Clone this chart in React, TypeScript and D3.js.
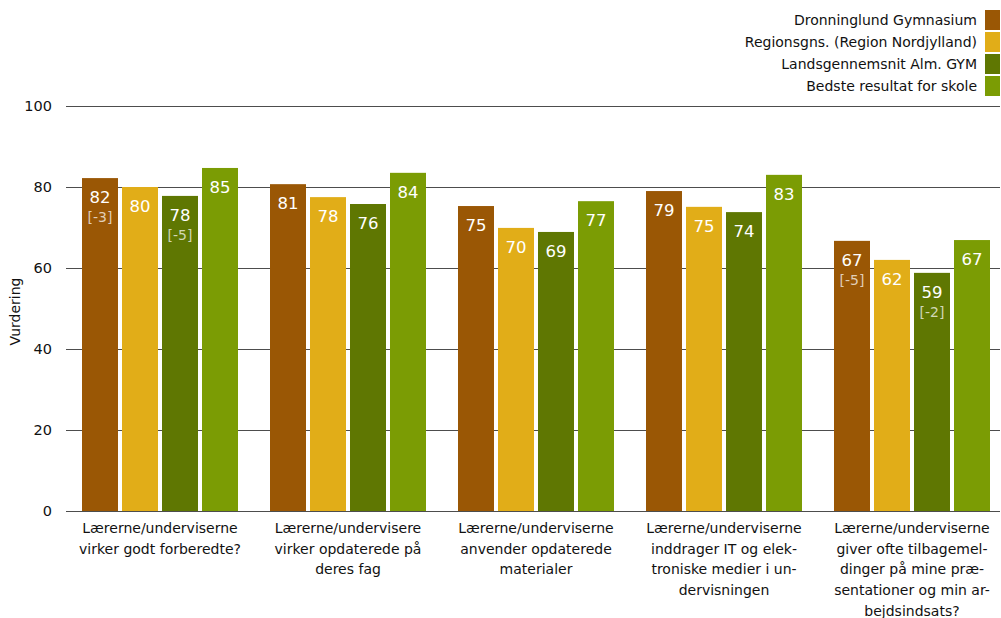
import React from "react";
import * as d3 from "d3";

const categories: string[][] = [
  ["Lærerne/underviserne", "virker godt forberedte?"],
  ["Lærerne/undervisere", "virker opdaterede på", "deres fag"],
  ["Lærerne/underviserne", "anvender opdaterede", "materialer"],
  ["Lærerne/underviserne", "inddrager IT og elek-", "troniske medier i un-", "dervisningen"],
  ["Lærerne/underviserne", "giver ofte tilbagemel-", "dinger på mine præ-", "sentationer og min ar-", "bejdsindsats?"],
];

const seriesNames = [
  "Dronninglund Gymnasium",
  "Regionsgns. (Region Nordjylland)",
  "Landsgennemsnit Alm. GYM",
  "Bedste resultat for skole",
];
const seriesColors = ["#9A5705", "#E1AD18", "#5F7702", "#7B9C04"];

const dronninglund = [82.2, 80.7, 75.3, 79.0, 66.7];
const region = [80.0, 77.5, 69.9, 75.1, 62.0];
const lands = [77.8, 75.8, 68.9, 73.8, 58.8];
const bedste = [84.7, 83.5, 76.5, 83.0, 66.9];

const dronninglundLabels = ["82", "81", "75", "79", "67"];
const regionLabels = ["80", "78", "70", "75", "62"];
const landsLabels = ["78", "76", "69", "74", "59"];
const bedsteLabels = ["85", "84", "77", "83", "67"];

const dronninglundDiff = ["[-3]", "", "", "", "[-5]"];
const landsDiff = ["[-5]", "", "", "", "[-2]"];
const noDiff = ["", "", "", "", ""];

const yTicks = [0, 20, 40, 60, 80, 100];

const FONT = "DejaVu Sans, Verdana, sans-serif";

export default function App() {
  const W = 1001;
  const H = 618;
  const values = [dronninglund, region, lands, bedste];
  const labels = [dronninglundLabels, regionLabels, landsLabels, bedsteLabels];
  const diffs = [dronninglundDiff, noDiff, landsDiff, noDiff];

  const y = d3.scaleLinear().domain([0, 100]).range([511, 106]);
  const x0 = d3
    .scaleBand<number>()
    .domain(d3.range(categories.length))
    .range([66, 1006])
    .paddingInner(0)
    .paddingOuter(0);
  const x1 = d3
    .scaleBand<number>()
    .domain(d3.range(4))
    .range([16, x0.bandwidth() - 16])
    .paddingInner(0.1)
    .paddingOuter(0);

  return (
    <svg width={W} height={H} style={{ position: "absolute", left: 0, top: 0, fontFamily: FONT }}>
      <rect x={0} y={0} width={W} height={H} fill="#fff" />
      {yTicks.map((t) => (
        <g key={t}>
          <line x1={66} x2={1000} y1={y(t) + 0.5} y2={y(t) + 0.5} stroke="#4d4d4d" strokeWidth={1} />
          <text x={52} y={y(t)} dy="0.35em" textAnchor="end" fontSize={14.5} fill="#111">
            {t}
          </text>
        </g>
      ))}
      <text
        transform={`translate(20,${(y(0) + y(100)) / 2 + 3}) rotate(-90)`}
        textAnchor="middle"
        fontSize={14}
        fill="#111"
      >
        Vurdering
      </text>
      {categories.map((cat, ci) => (
        <g key={ci} transform={`translate(${x0(ci)},0)`}>
          {values.map((vals, si) => {
            const bx = x1(si)!;
            const bw = x1.bandwidth();
            const top = y(vals[ci]);
            return (
              <g key={si}>
                <rect x={bx} y={top} width={bw} height={y(0) - top} fill={seriesColors[si]} />
                <text
                  x={bx + bw / 2}
                  y={top + 25}
                  textAnchor="middle"
                  fontSize={16.5}
                  fill="#fff"
                >
                  {labels[si][ci]}
                </text>
                {diffs[si][ci] && (
                  <text
                    x={bx + bw / 2}
                    y={top + 44}
                    textAnchor="middle"
                    fontSize={14}
                    fill="#fff"
                    fillOpacity={0.72}
                  >
                    {diffs[si][ci]}
                  </text>
                )}
              </g>
            );
          })}
          {cat.map((line, li) => (
            <text
              key={li}
              x={x0.bandwidth() / 2}
              y={533 + li * 20.7}
              textAnchor="middle"
              fontSize={14}
              fill="#111"
            >
              {line}
            </text>
          ))}
        </g>
      ))}
      {seriesNames.map((name, i) => (
        <g key={name} transform={`translate(0,${10 + i * 22})`}>
          <rect x={985} y={0} width={15} height={20} fill={seriesColors[i]} />
          <text x={977} y={10} dy="0.35em" textAnchor="end" fontSize={14} fill="#111">
            {name}
          </text>
        </g>
      ))}
    </svg>
  );
}
